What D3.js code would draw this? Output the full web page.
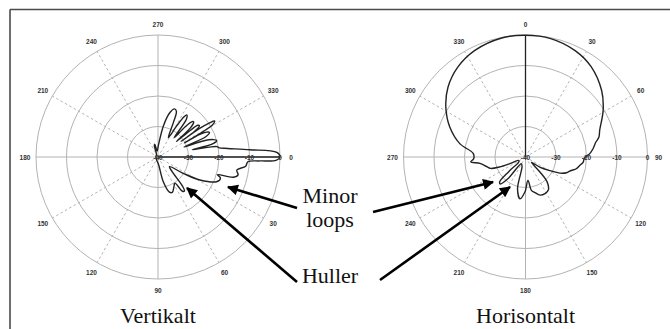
<!DOCTYPE html>
<html>
<head>
<meta charset="utf-8">
<script src="https://cdn.jsdelivr.net/npm/d3@7"></script>
<style>
  body { margin: 0; background: #fff; }
  svg { display: block; }
</style>
</head>
<body>
<svg id="chart" width="670" height="329"></svg>
<script>
// Radial (dB) ticks and angle ticks shared by both polar plots
const dbTicks = [-40, -30, -20, -10, 0];
const angleTicks = [0, 30, 60, 90, 120, 150, 180, 210, 240, 270, 300, 330];

// Vertical radiation pattern: angle (deg, 0 = right, clockwise) and level (dB)
const vertAngle = [0, 1.6, 2.2, 3.0, 6, 9.4, 12.6, 15, 16.5, 18.5, 22.5, 28.7, 33, 40, 46, 50, 52, 54.5, 57, 62, 68, 72, 78, 85, 120, 180, 240, 252, 256, 262, 272, 280, 285, 289, 292, 294, 298, 301, 303, 304.5, 307, 310, 312, 314, 315.5, 318, 320, 320.5, 321.5, 323, 325, 326, 325.5, 326.5, 327.5, 329.5, 332, 331.5, 333, 334.5, 337, 339, 340.5, 342.5, 344.5, 346.5, 348, 349, 350, 351.5, 353, 355.5, 357.8];
const vertDb = [0, -1.3, -6.6, -10.5, -11.1, -13.8, -13.1, -14.4, -19.7, -18.4, -19.0, -24.3, -30.2, -35.1, -33.4, -27.5, -25.9, -26.2, -29.8, -28.9, -27.5, -27.9, -31.8, -37.4, -39.0, -39.3, -39.0, -36.1, -35.7, -38.0, -36.1, -29.5, -24.9, -23.3, -23.9, -27.5, -32.8, -28.2, -24.3, -23.3, -24.6, -31.8, -26.9, -23.9, -23.6, -25.6, -32.1, -26.2, -23.3, -23.0, -25.2, -30.8, -23.6, -19.7, -18.0, -19.3, -30.2, -24.6, -22.0, -21.3, -23.0, -30.8, -24.3, -21.0, -20.0, -21.6, -28.5, -23.0, -20.3, -19.7, -17.0, -9.8, -1.0];

// Horizontal radiation pattern: angle (deg, 0 = top, clockwise) and level (dB)
const horAngle = [0, 12, 25, 36, 49, 59, 70, 75, 78, 83, 87, 91, 95, 99, 103, 107, 111, 115, 119, 125, 132, 136, 139, 145, 152, 159, 165, 170, 174, 181, 187.5, 194, 200, 212, 219, 223, 226, 229, 235, 245, 247, 249, 252, 256, 262, 265, 268, 274, 281.5, 291.6, 302, 312, 323, 334.6, 348.7];
const horDb = [-0.1, -0.3, -1.5, -3.4, -6.9, -10.3, -14.1, -15.1, -16.4, -17.7, -18.9, -20.7, -21.0, -22.0, -22.9, -24.6, -25.6, -27.5, -30.8, -34.1, -37.4, -33.4, -29.2, -26.9, -26.4, -26.6, -27.9, -28.9, -32.3, -28.5, -26.2, -29.2, -36.7, -37.4, -30.8, -27.9, -28.2, -32.8, -37.4, -37.4, -34.4, -30.8, -27.9, -26.9, -24.9, -22.0, -23.0, -22.8, -18.0, -13.3, -9.2, -5.8, -3.1, -1.3, -0.2];

const svg = d3.select("#chart");
const R = 122;
const rScale = d3.scaleLinear().domain([-40, 0]).range([0, R]).clamp(true);
const toRad = d => d * Math.PI / 180;
const tickFont = "Liberation Sans, Arial, sans-serif";
const serif = "Liberation Serif, Times New Roman, serif";

// Frame edges
svg.append("line").attr("x1", 10).attr("y1", 9.5).attr("x2", 670).attr("y2", 9.5)
  .attr("stroke", "#4a4a4a").attr("stroke-width", 1.6);
svg.append("line").attr("x1", 10).attr("y1", 9.5).attr("x2", 10).attr("y2", 329)
  .attr("stroke", "#4a4a4a").attr("stroke-width", 1.6);

function polarPlot(cx, cy, rot, angles, dbs, title) {
  // rot: screen bearing (deg, 0 = up, clockwise) of the plot's 0 direction
  const g = svg.append("g").attr("transform", `translate(${cx},${cy})`);
  const grid = g.append("g");
  dbTicks.filter(d => d > -40).forEach(d => {
    grid.append("circle").attr("r", rScale(d)).attr("fill", "none")
      .attr("stroke", "#b3b3b3").attr("stroke-width", 1);
  });
  angleTicks.forEach(a => {
    const t = toRad(a + rot);
    const solid = a % 90 === 0;
    grid.append("line")
      .attr("x1", 0).attr("y1", 0)
      .attr("x2", R * Math.sin(t)).attr("y2", -R * Math.cos(t))
      .attr("stroke", "#b3b3b3").attr("stroke-width", 1)
      .attr("stroke-dasharray", solid ? null : "2.5,2.5");
  });
  angleTicks.forEach(a => {
    const t = toRad(a + rot);
    g.append("text")
      .attr("x", 133 * Math.sin(t)).attr("y", -133 * Math.cos(t))
      .attr("text-anchor", "middle").attr("dominant-baseline", "central")
      .attr("font-family", tickFont)
      .attr("font-size", 6.5).attr("font-weight", "bold").attr("fill", "#333")
      .text(a);
  });
  // dark reference line along the 0 direction
  const t0 = toRad(rot);
  g.append("line").attr("x1", 0).attr("y1", 0)
    .attr("x2", R * Math.sin(t0)).attr("y2", -R * Math.cos(t0))
    .attr("stroke", "#222").attr("stroke-width", 1.3);
  // pattern
  const pts = angles.map((a, i) => ({ a, db: dbs[i] }));
  const line = d3.lineRadial()
    .angle(d => toRad(d.a + rot))
    .radius(d => rScale(d.db))
    .curve(d3.curveCatmullRomClosed.alpha(0.5));
  g.append("path").datum(pts).attr("d", line)
    .attr("fill", "none").attr("stroke", "#222").attr("stroke-width", 1.4)
    .attr("stroke-linejoin", "round");
  // dB labels along the screen-right direction
  dbTicks.forEach(d => {
    g.append("text")
      .attr("x", rScale(d)).attr("y", 0)
      .attr("text-anchor", "middle").attr("dominant-baseline", "central")
      .attr("font-family", tickFont)
      .attr("font-size", 6.5).attr("font-weight", "bold").attr("fill", "#333")
      .text(d);
  });
  svg.append("text").attr("x", cx).attr("y", 323)
    .attr("text-anchor", "middle")
    .attr("font-family", serif)
    .attr("font-size", 22).attr("fill", "#111")
    .text(title);
}

polarPlot(158, 157, 90, vertAngle, vertDb, "Vertikalt");
polarPlot(525.5, 157, 0, horAngle, horDb, "Horisontalt");

// Annotation arrows
const defs = svg.append("defs");
defs.append("marker").attr("id", "head")
  .attr("viewBox", "0 0 10 10").attr("refX", 9).attr("refY", 5)
  .attr("markerWidth", 5.2).attr("markerHeight", 4.2)
  .attr("markerUnits", "strokeWidth").attr("orient", "auto")
  .append("path").attr("d", "M0,0 L10,5 L0,10 Z").attr("fill", "#000");

const arrows = [
  [297, 208, 228, 187],
  [373, 212, 493, 182],
  [297, 282, 187, 188],
  [380, 280, 510, 187]
];
arrows.forEach(([x1, y1, x2, y2]) => {
  svg.append("line").attr("x1", x1).attr("y1", y1).attr("x2", x2).attr("y2", y2)
    .attr("stroke", "#000").attr("stroke-width", 2.6)
    .attr("marker-end", "url(#head)");
});

// Annotation labels
const notes = [["Minor", 202.5], ["loops", 227], ["Huller", 283]];
notes.forEach(([t, y]) => {
  svg.append("text").attr("x", 330).attr("y", y)
    .attr("text-anchor", "middle").attr("font-family", serif)
    .attr("font-size", 22).attr("fill", "#111")
    .text(t);
});
</script>
</body>
</html>
